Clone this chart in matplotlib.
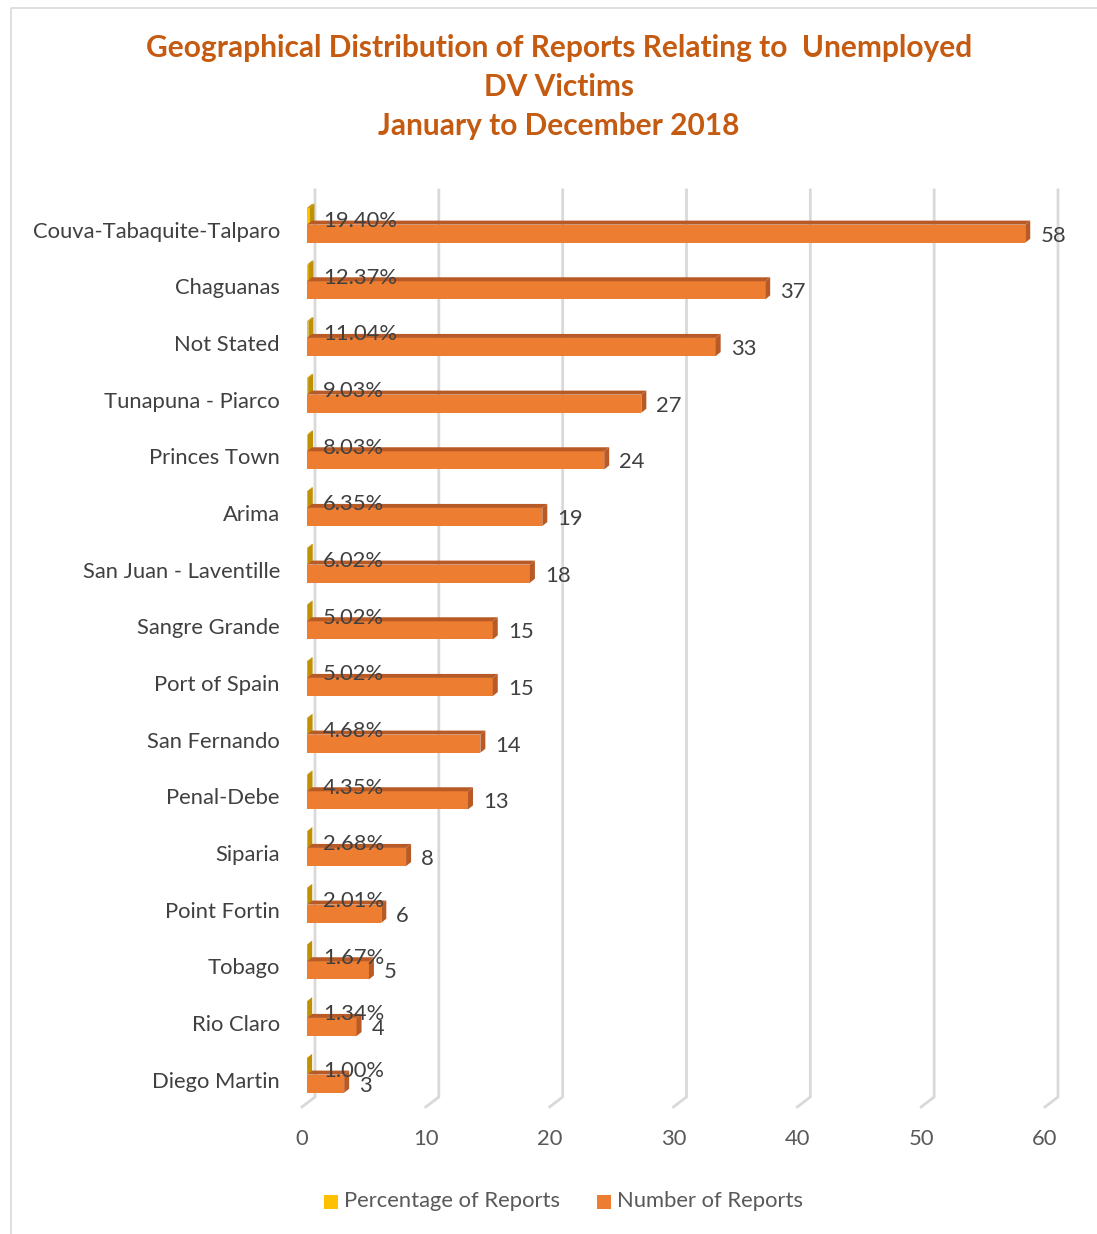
import matplotlib.pyplot as plt
from matplotlib.patches import Polygon, Rectangle
from matplotlib.lines import Line2D

# report counts by region, percentage share of the total
regions = ["Couva-Tabaquite-Talparo", "Chaguanas", "Not Stated", "Tunapuna - Piarco",
           "Princes Town", "Arima", "San Juan - Laventille", "Sangre Grande",
           "Port of Spain", "San Fernando", "Penal-Debe", "Siparia", "Point Fortin",
           "Tobago", "Rio Claro", "Diego Martin"]
counts = [58, 37, 33, 27, 24, 19, 18, 15, 15, 14, 13, 8, 6, 5, 4, 3]
percents = [19.40, 12.37, 11.04, 9.03, 8.03, 6.35, 6.02, 5.02, 5.02, 4.68, 4.35,
            2.68, 2.01, 1.67, 1.34, 1.00]
xticks = [0, 10, 20, 30, 40, 50, 60]

W, H = 1097, 1234
plt.rcParams['font.family'] = ['Lato', 'DejaVu Sans']
fig = plt.figure(figsize=(W / 100, H / 100), dpi=100)

# plot area: 0..60 across, one row per region
ax = fig.add_axes([307 / W, 1 - 1110 / H, 743 / W, 925 / H])
ax.set_xlim(0, 60)
ax.set_ylim(15.53, -0.794)
ax.axis('off')

px = 60 / 743               # data units per pixel
py = (15.53 + 0.794) / 925
dx, dy = 5 * px, -4 * py    # depth of the 3d bars

txt = '#404040'
grid = '#D9D9D9'
fs = 15.8


def bar3d(y, h, w, front, dark):
    top = y - h / 2
    ax.add_patch(Rectangle((0, top), w, h, fc=front, ec='none', clip_on=False, zorder=3))
    ax.add_patch(Polygon([(0, top), (w, top), (w + dx, top + dy), (dx, top + dy)],
                         fc=dark, ec='none', clip_on=False, zorder=3))
    ax.add_patch(Polygon([(w, top), (w + dx, top + dy), (w + dx, top + h + dy), (w, top + h)],
                         fc=dark, ec='none', clip_on=False, zorder=3))


# gridlines on the back wall, folding down to the floor
for t in xticks:
    gx = t + 8 * px
    ax.add_line(Line2D([gx, gx, t - 5 * px], [-0.706, 15.30, 15.476],
                       color=grid, lw=2, clip_on=False, zorder=1))
    ax.text(t - 5 * px, 15.5 + 31 * py, str(t), ha='center', va='center',
            fontsize=fs, color='#595959')

for i, (name, n, p) in enumerate(zip(regions, counts, percents)):
    bar3d(i - 0.24, 0.30, p / 100, '#FFC000', '#BF9000')
    bar3d(i + 0.065, 0.32, n, '#ED7D31', '#B85A26')
    ax.text(-27 * px, i + 0.03, name, ha='right', va='center', fontsize=fs, color=txt)
    ax.text(16 * px, i - 0.16, f"{p:.2f}%", ha='left', va='center',
            fontsize=fs, color=txt, zorder=4)
    ax.text(n + 15 * px, i + 0.1, str(n), ha='left', va='center',
            fontsize=fs, color=txt, zorder=4)

# title
fig.text(559 / W, 1 - 87 / H,
         "Geographical Distribution of Reports Relating to  Unemployed\nDV Victims\nJanuary to December 2018",
         ha='center', va='center', fontsize=21.5, fontweight='bold', color='#C55A11',
         linespacing=1.47)

# legend
fig.patches.append(Rectangle((324 / W, 1 - 1209 / H), 14 / W, 14 / H, fc='#FFC000',
                             transform=fig.transFigure))
fig.text(344 / W, 1 - 1201 / H, "Percentage of Reports", ha='left', va='center',
         fontsize=fs, color='#595959')
fig.patches.append(Rectangle((597 / W, 1 - 1209 / H), 14 / W, 14 / H, fc='#ED7D31',
                             transform=fig.transFigure))
fig.text(617 / W, 1 - 1201 / H, "Number of Reports", ha='left', va='center',
         fontsize=fs, color='#595959')

# chart border
fig.add_artist(Line2D([11 / W, 11 / W, 1.0], [0, 1 - 8 / H, 1 - 8 / H],
                      color=grid, lw=1.2, transform=fig.transFigure))

fig.savefig('out.png', dpi=100)
